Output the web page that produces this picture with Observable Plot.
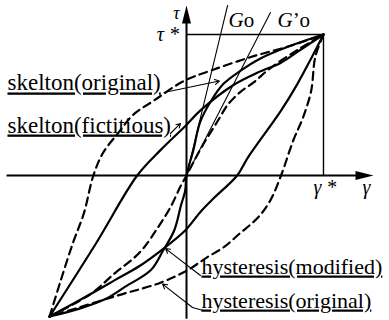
<!DOCTYPE html>
<html><head><meta charset="utf-8">
<script src="https://cdn.jsdelivr.net/npm/d3@7"></script>
<script src="https://cdn.jsdelivr.net/npm/@observablehq/plot@0.6"></script>
<style>body{margin:0;background:#fff}svg{display:block}</style>
</head><body><div id="chart"></div>
<script>
// normalised strain gamma/gamma*, stress tau/tau*
const skeletonOriginal = [[-1,-1],[-0.77,-0.94],[-0.58,-0.87],[-0.45,-0.79],[-0.26,-0.67],[-0.17,-0.53],[-0.09,-0.39],[-0.04,-0.21],[-0.01,-0.11],[0,0],[0.05,0.18],[0.10,0.38],[0.18,0.53],[0.27,0.65],[0.39,0.74],[0.54,0.83],[0.76,0.92],[1,1]];
const skeletonFictitious = [[-1,-1],[-0.70,-0.84],[-0.52,-0.69],[-0.39,-0.59],[-0.31,-0.51],[-0.21,-0.37],[-0.12,-0.23],[-0.04,-0.07],[0,0],[0.07,0.13],[0.14,0.25],[0.23,0.39],[0.30,0.50],[0.39,0.59],[0.49,0.66],[0.61,0.76],[0.81,0.89],[1,1]];
const hystModifiedUp = [[-1,-1],[-0.66,-0.48],[-0.36,0],[-0.19,0.18],[-0.01,0.35],[0.10,0.46],[0.34,0.64],[0.52,0.73],[0.69,0.80],[0.83,0.89],[1,1]];
const hystModifiedDown = [[1,1],[0.91,0.83],[0.81,0.65],[0.69,0.46],[0.45,0.13],[0.37,0],[0.20,-0.16],[0.10,-0.26],[-0.01,-0.39],[-0.17,-0.52],[-0.34,-0.64],[-0.52,-0.74],[-0.70,-0.84],[-1,-1]];
const hystOriginalUp = [[-1,-1],[-0.92,-0.75],[-0.83,-0.48],[-0.75,-0.27],[-0.68,0],[-0.61,0.16],[-0.50,0.30],[-0.39,0.43],[-0.24,0.53],[-0.02,0.67],[0.18,0.745],[0.47,0.84],[0.76,0.92],[1,1]];
const hystOriginalDown = [[1,1],[0.94,0.84],[0.91,0.60],[0.85,0.41],[0.78,0.25],[0.69,0],[0.61,-0.18],[0.52,-0.30],[0.39,-0.41],[0.27,-0.51],[0.15,-0.58],[0.01,-0.67],[-0.19,-0.76],[-0.50,-0.85],[-1,-1]];
const tangentGo = [[0,0],[0.30,1.206]];
const tangentG2o = [[0,0],[0.613,1.156]];
const peak = [1, 1];
const axisEnds = {x: [-1.31, 1.365], y: [-1.02, 1.206]};

const axisLabels = [
  {t:"τ", x:-0.073, y:1.113, anchor:"middle", italic:true, size:18},
  {t:"τ *", x:-0.055, y:0.957, anchor:"end", italic:true, size:20},
  {t:"γ *", x:0.927, y:-0.128, anchor:"start", italic:true, size:20},
  {t:"γ", x:1.285, y:-0.128, anchor:"start", italic:true, size:20},
  {t:"Go", x:0.307, y:1.05, anchor:"start", italic:false, size:21},
  {t:"G’o", x:0.664, y:1.05, anchor:"start", italic:false, size:21}
];
const curveLabels = [
  {t:"skelton(original)", x:-1.307, y:0.603, size:23},
  {t:"skelton(fictitious)", x:-1.307, y:0.305, size:23},
  {t:"hysteresis(modified)", x:0.109, y:-0.695, size:22},
  {t:"hysteresis(original)", x:0.109, y:-0.936, size:22}
];
const pointers = [
  {x1:-0.165, y1:0.589, x2:0.24, y2:0.67},
  {x1:-0.117, y1:0.298, x2:-0.044, y2:0.369},
  {x1:0.102, y1:-0.709, x2:-0.153, y2:-0.518},
  {x1:0.044, y1:-0.936, x2:-0.175, y2:-0.77}
];
const pointerTails = [[0.117,-0.955],[0.044,-0.936]];

const arrowHead = {draw(ctx){ctx.moveTo(0,0);ctx.lineTo(4.5,18);ctx.lineTo(-4.5,18);ctx.closePath();}};
const font = "Liberation Serif, Times New Roman, serif";
const dash = "8,5";

const chart = Plot.plot({
  width: 389, height: 320,
  marginTop: 0, marginRight: 0, marginBottom: 0, marginLeft: 0,
  x: {domain: [-1.358, 1.482], axis: null},
  y: {domain: [-1.028, 1.241], axis: null},
  marks: [
    Plot.ruleY([0], {x1: axisEnds.x[0], x2: axisEnds.x[1] - 0.06, strokeWidth: 2}),
    Plot.ruleX([0], {y1: axisEnds.y[0], y2: axisEnds.y[1] - 0.06, strokeWidth: 2}),
    Plot.dot([[axisEnds.x[1], 0]], {symbol: arrowHead, fill: "black", stroke: "none", rotate: 90}),
    Plot.dot([[0, axisEnds.y[1]]], {symbol: arrowHead, fill: "black", stroke: "none"}),
    Plot.ruleY([peak[1]], {x1: 0, x2: peak[0], strokeWidth: 1.4}),
    Plot.ruleX([peak[0]], {y1: 0, y2: peak[1], strokeWidth: 1.4}),
    Plot.line(tangentGo, {strokeWidth: 1.1}),
    Plot.line(tangentG2o, {strokeWidth: 1.1}),
    Plot.line(skeletonOriginal, {curve: "catmull-rom", strokeWidth: 2.2}),
    Plot.line(hystModifiedUp, {curve: "catmull-rom", strokeWidth: 2.2}),
    Plot.line(hystModifiedDown, {curve: "catmull-rom", strokeWidth: 2.2}),
    Plot.line(skeletonFictitious, {curve: "catmull-rom", strokeWidth: 2.2, strokeDasharray: dash}),
    Plot.line(hystOriginalUp, {curve: "catmull-rom", strokeWidth: 2.2, strokeDasharray: dash}),
    Plot.line(hystOriginalDown, {curve: "catmull-rom", strokeWidth: 2.2, strokeDasharray: dash}),
    Plot.line(pointerTails, {strokeWidth: 1.1}),
    Plot.arrow(pointers, {x1: "x1", y1: "y1", x2: "x2", y2: "y2", strokeWidth: 1.1, headLength: 7}),
    ...axisLabels.map(d => Plot.text([d], {x: "x", y: "y", text: "t", textAnchor: d.anchor, lineAnchor: "bottom", fontSize: d.size, fontFamily: font, fill: "black"})),
    ...curveLabels.map(d => Plot.text([d], {x: "x", y: "y", text: "t", textAnchor: "start", lineAnchor: "bottom", fontSize: d.size, fontFamily: font, fill: "black"}))
  ]
});
document.getElementById("chart").append(chart);
const svg = d3.select(chart);
svg.selectAll("text").each(function(){
  const el = d3.select(this);
  const s = el.text();
  if (curveLabels.some(c => c.t === s)) el.style("text-decoration", "underline");
  const lab = axisLabels.find(a => a.t === s);
  if (lab && lab.italic) el.attr("font-style", "italic");
  if (s.startsWith("G")) {
    el.text("");
    el.append("tspan").attr("font-style", "italic").text("G");
    el.append("tspan").text(s.slice(1));
  }
});
</script></body></html>
